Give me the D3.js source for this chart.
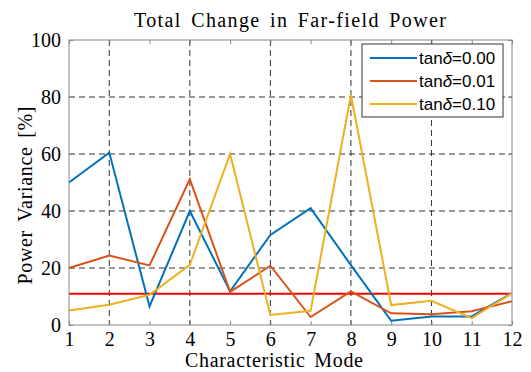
<!DOCTYPE html>
<html>
<head>
<meta charset="utf-8">
<script src="https://cdn.jsdelivr.net/npm/d3@7"></script>
<style>
  body { margin: 0; background: #fff; }
  svg text { font-family: "Liberation Serif", "Times New Roman", serif; }
</style>
</head>
<body>
<svg class="chart"></svg>
<script>
const modes = [1, 2, 3, 4, 5, 6, 7, 8, 9, 10, 11, 12];
const lossNone = [50, 60.5, 6.5, 40, 11.8, 31.6, 41, 21, 1.5, 3, 3, 11.2];
const lossLow = [20, 24.4, 20.9, 51.2, 11.6, 20.8, 2.8, 11.8, 4.1, 3.8, 4.8, 8.3];
const lossHigh = [5.1, 7.1, 10.6, 21.1, 60, 3.5, 5, 80.7, 7, 8.5, 2.4, 11.2];
const seriesNames = ['0.00', '0.01', '0.10'];
const seriesColors = ['#0072BD', '#D95319', '#EDB120'];
const threshold = 11;
const yTicks = [0, 20, 40, 60, 80, 100];
const xGrid = [2, 4, 6, 8, 10];
const yGrid = [20, 40, 60, 80];

const W = 531, H = 372;
const plot = { left: 69, right: 512, top: 40, bottom: 325 };

const svg = d3.select('.chart').attr('width', W).attr('height', H);

const x = d3.scaleLinear().domain([1, 12]).range([plot.left, plot.right]);
const y = d3.scaleLinear().domain([0, 100]).range([plot.bottom, plot.top]);

// grid
svg.selectAll('.vgrid').data(xGrid).enter().append('line')
    .attr('x1', d => x(d)).attr('x2', d => x(d))
    .attr('y1', plot.top).attr('y2', plot.bottom)
    .style('stroke', '#333').style('stroke-dasharray', '6,4').style('stroke-width', 1);
svg.selectAll('.hgrid').data(yGrid).enter().append('line')
    .attr('x1', plot.left).attr('x2', plot.right)
    .attr('y1', d => y(d)).attr('y2', d => y(d))
    .style('stroke', '#333').style('stroke-dasharray', '6,4').style('stroke-width', 1);

// axes (ticks inside)
svg.append('g').attr('transform', `translate(0,${plot.bottom})`)
    .call(d3.axisBottom(x).tickValues(modes).tickSize(-4).tickPadding(7).tickFormat(d3.format('d')))
    .call(g => g.select('.domain').remove())
    .call(g => g.selectAll('line').style('stroke', '#888'))
    .call(g => g.selectAll('text').style('font-size', '20px').style('fill', '#000')
        .style('font-family', '"Liberation Serif", serif'));
svg.append('g').attr('transform', `translate(${plot.left},0)`)
    .call(d3.axisLeft(y).tickValues(yTicks).tickSize(-4).tickPadding(8))
    .call(g => g.select('.domain').remove())
    .call(g => g.selectAll('line').style('stroke', '#888'))
    .call(g => g.selectAll('text').style('font-size', '20px').style('fill', '#000')
        .style('font-family', '"Liberation Serif", serif'));
svg.append('g').attr('transform', `translate(${plot.right},0)`)
    .call(d3.axisRight(y).tickValues(yTicks).tickSize(-4).tickFormat(''))
    .call(g => g.select('.domain').remove())
    .call(g => g.selectAll('line').style('stroke', '#888'));
svg.append('g').attr('transform', `translate(0,${plot.top})`)
    .call(d3.axisTop(x).tickValues(modes).tickSize(-4).tickFormat(''))
    .call(g => g.select('.domain').remove())
    .call(g => g.selectAll('line').style('stroke', '#888'));

// threshold line
svg.append('line')
    .attr('x1', plot.left).attr('x2', plot.right)
    .attr('y1', y(threshold)).attr('y2', y(threshold))
    .style('stroke', '#FF0000').style('stroke-width', 2);

// series
const allSeries = [lossNone, lossLow, lossHigh];
const line = d3.line().x((d, i) => x(modes[i])).y(d => y(d));
svg.selectAll('.series').data(allSeries).enter().append('path')
    .attr('d', line)
    .style('fill', 'none')
    .style('stroke', (d, i) => seriesColors[i])
    .style('stroke-width', 2)
    .style('stroke-linejoin', 'miter');

// frame
svg.append('rect')
    .attr('x', plot.left).attr('y', plot.top)
    .attr('width', plot.right - plot.left).attr('height', plot.bottom - plot.top)
    .style('fill', 'none').style('stroke', '#888').style('stroke-width', 1);

// title and labels
svg.append('text')
    .attr('x', 290).attr('y', 27)
    .attr('text-anchor', 'middle')
    .attr('textLength', 312)
    .style('font-size', '20px').style('word-spacing', '3px')
    .text('Total Change in Far-field Power');
svg.append('text')
    .attr('x', 274).attr('y', 367)
    .attr('text-anchor', 'middle')
    .attr('textLength', 178)
    .style('font-size', '20px').style('word-spacing', '3px')
    .text('Characteristic Mode');
svg.append('text')
    .attr('transform', `translate(32,${(plot.top + plot.bottom) / 2 + 13}) rotate(-90)`)
    .attr('text-anchor', 'middle')
    .attr('textLength', 178)
    .style('font-size', '20px').style('word-spacing', '3px')
    .text('Power Variance [%]');

// legend
const legend = svg.append('g').attr('transform', 'translate(362,44)');
legend.append('rect')
    .attr('width', 141).attr('height', 73)
    .style('fill', '#fff').style('stroke', '#333').style('stroke-width', 1);
const rows = legend.selectAll('.row').data(seriesNames).enter().append('g')
    .attr('transform', (d, i) => `translate(0,${14 + i * 23})`);
rows.append('line')
    .attr('x1', 8).attr('x2', 55)
    .style('stroke', (d, i) => seriesColors[i]).style('stroke-width', 2);
const lt = rows.append('text')
    .attr('x', 57).attr('y', 6)
    .style('font-family', '"Liberation Sans", Arial, sans-serif')
    .style('font-size', '17px');
lt.append('tspan').text('tan');
lt.append('tspan').style('font-style', 'italic').text('δ');
lt.append('tspan').text(d => '=' + d);
</script>
</body>
</html>
